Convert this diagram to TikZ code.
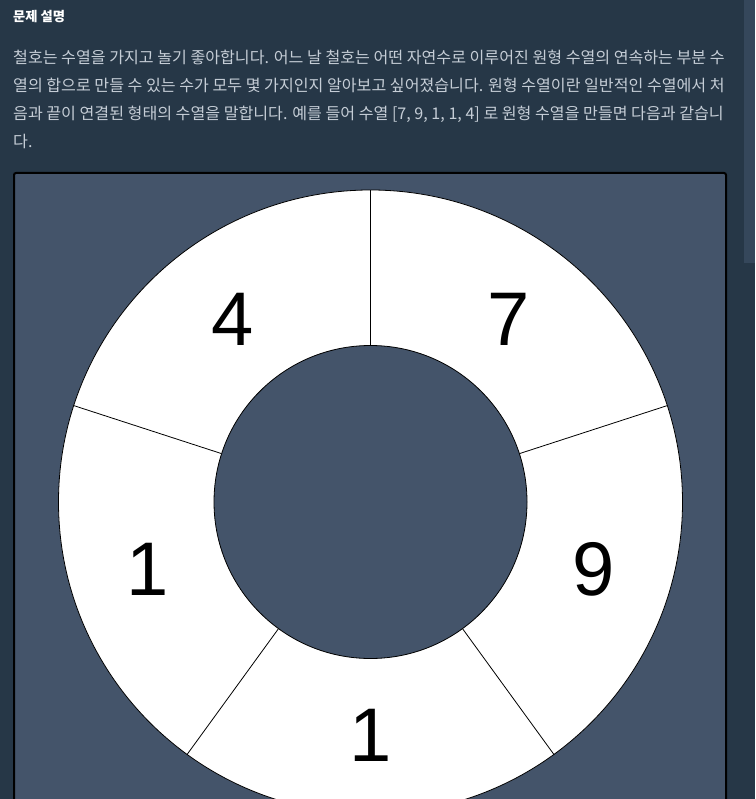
\documentclass[tikz,border=0pt]{standalone}
\usepackage{fontspec}
\setmainfont{Liberation Sans}
\newfontfamily\kr{Noto Sans CJK KR}
\usetikzlibrary{positioning, calc}
\definecolor{pagebg}{HTML}{263747}
\definecolor{boxbg}{HTML}{44546A}
\definecolor{bodytxt}{HTML}{C5CDD6}
\definecolor{thumb}{HTML}{35475B}
\begin{document}
\begin{tikzpicture}[x=1pt, y=1pt,
    line/.style={anchor=base west, inner sep=0pt, text=bodytxt, font=\kr\fontsize{16.1}{16.1}\selectfont},
    title/.style={anchor=base west, inner sep=0pt, text=white, font=\kr\bfseries\fontsize{13.3}{13.3}\selectfont},
    digit/.style={inner sep=0pt, text=black, font=\fontsize{76}{76}\selectfont},
    disc/.style={circle, draw=black, line width=0.8pt, inner sep=0pt}]
        \useasboundingbox (0,0) rectangle (755,-799);
        \fill[pagebg] (0,0) rectangle (755,-799);
        \fill[thumb]  (744,0) rectangle (755,-263);

        \node[title] (T)  at (13,-22)  {문제 설명};
        \node[line]  (L1) at (13,-64)  {철호는 수열을 가지고 놀기 좋아합니다. 어느 날 철호는 어떤 자연수로 이루어진 원형 수열의 연속하는 부분 수};
        \node[line]  (L2) at (13,-92)  {열의 합으로 만들 수 있는 수가 모두 몇 가지인지 알아보고 싶어졌습니다. 원형 수열이란 일반적인 수열에서 처};
        \node[line]  (L3) at (13,-120) {음과 끝이 연결된 형태의 수열을 말합니다. 예를 들어 수열 [7, 9, 1, 1, 4] 로 원형 수열을 만들면 다음과 같습니};
        \node[line]  (L4) at (13,-148) {다.};

        \begin{scope}
          \clip (0,0) rectangle (755,-799);
          \draw[fill=boxbg, line width=2pt, rounded corners=2pt] (14,-173) rectangle (726,-830);
          \coordinate (C) at (370.5,-502);
          \node[disc, fill=white, minimum size=624pt] (ring) at (C) {};
          \node[disc, fill=boxbg, minimum size=313pt] (hub)  at (C) {};
          % spokes between the five parts
          \foreach \a in {90,18,-54,-126,162}
            \draw[line width=0.8pt] (hub.\a) -- (ring.\a);
          \node[digit] (D7)  at ([shift={(53:229)}]C)   {7};
          \node[digit] (D9)  at ([shift={(-16.8:233)}]C)  {9};
          \node[digit] (D1a) at ([shift={(-90:233)}]C)  {1};
          \node[digit] (D1b) at ([shift={(196.8:233)}]C) {1};
          \node[digit] (D4)  at ([shift={(127:229)}]C)  {4};
        \end{scope}
      \end{tikzpicture}
\end{document}
